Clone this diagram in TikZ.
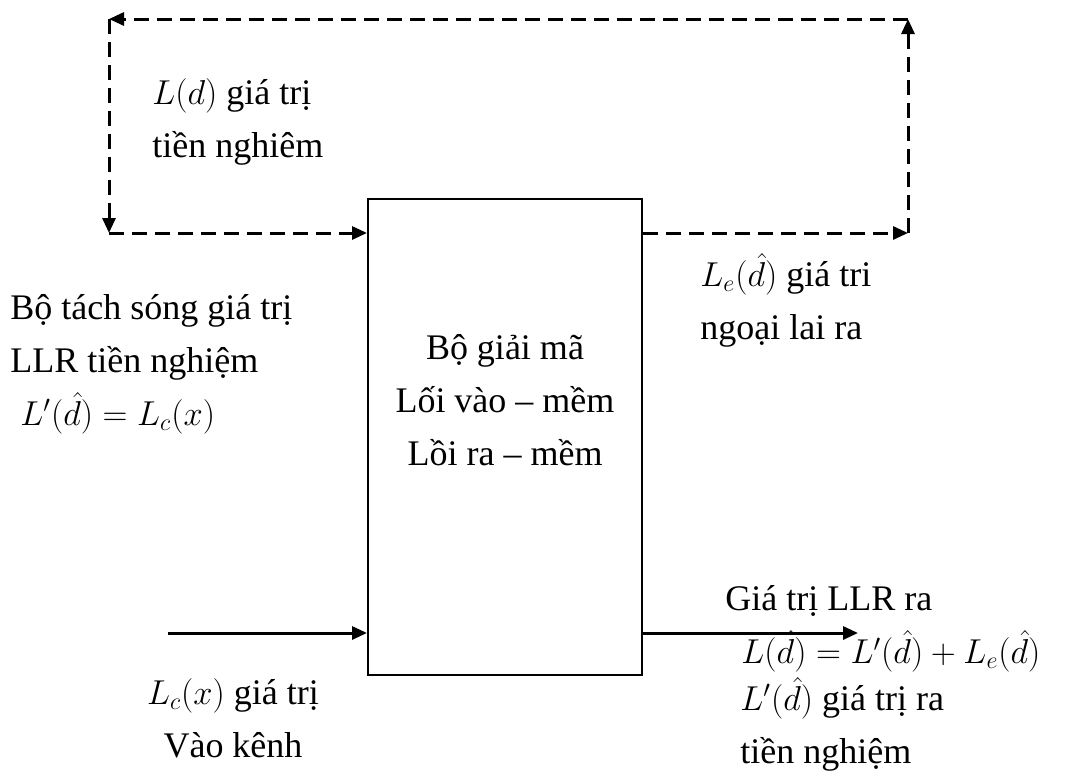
\documentclass[tikz,border=0pt]{standalone}
\usepackage{fontspec}
\setmainfont{Liberation Serif}
\usetikzlibrary{arrows.meta}
\newcommand{\dhatp}{\bigl(\hat{d}\bigr)}
\tikzset{
  fb/.style={line width=1.5pt, dash pattern=on 7.5pt off 4pt, -{Triangle[length=7.5pt,width=6.5pt]}},
  sig/.style={line width=1.5pt, -{Triangle[length=7.5pt,width=6.5pt]}},
  lbl/.style={inner sep=0pt, font=\fontsize{18}{26.5}\selectfont},
  blk/.style={draw, line width=1pt, minimum width=137pt, minimum height=238pt, inner sep=0pt}
}
\begin{document}
\begin{tikzpicture}[x=0.5pt,y=-0.5pt]
\useasboundingbox (0,0) rectangle (1086,772);
\node[blk] (dec) at (505,437) {};
\node[lbl, align=center] (dectext) at (505,400) {Bộ giải mã\\Lối vào -- mềm\\Lồi ra -- mềm};
\coordinate (tl) at (109,19);
\coordinate (bl) at (109,233);
\coordinate (tr) at (908,19);
\coordinate (br) at (908,233);
\coordinate (in) at (168,633);
\coordinate (out) at (858,633);
\draw[fb] (dec.east |- br) -- (br);
\draw[fb] (br) -- (tr);
\draw[fb] (tr) -- (tl);
\draw[fb] (tl) -- (bl);
\draw[fb] (bl) -- (bl -| dec.west);
\draw[sig] (in) -- (in -| dec.west);
\draw[sig] (in -| dec.east) -- (out);
\node[lbl, align=left, anchor=west] (prior) at (152,122) {$L(d)$ giá trị\\tiền nghiêm};
\node[lbl, align=left, anchor=west] (det) at (10,364) {Bộ tách sóng giá trị\\LLR tiền nghiệm\\\hspace{5pt}$L'\dhatp = L_c(x)$};
\node[lbl, align=left, anchor=west] (ext) at (700,300) {$L_e\dhatp$ giá tri\\ngoại lai ra};
\node[lbl, align=left, anchor=west] (llr) at (725,629) {Giá trị LLR ra\\\hspace{8pt}$L\dhatp = L'\dhatp + L_e\dhatp$};
\node[lbl, align=center] (chan) at (233,718) {$L_c(x)$ giá trị\\Vào kênh};
\node[lbl, align=left, anchor=west] (apri) at (740,724) {$L'\dhatp$ giá trị ra\\tiền nghiệm};
\end{tikzpicture}
\end{document}
